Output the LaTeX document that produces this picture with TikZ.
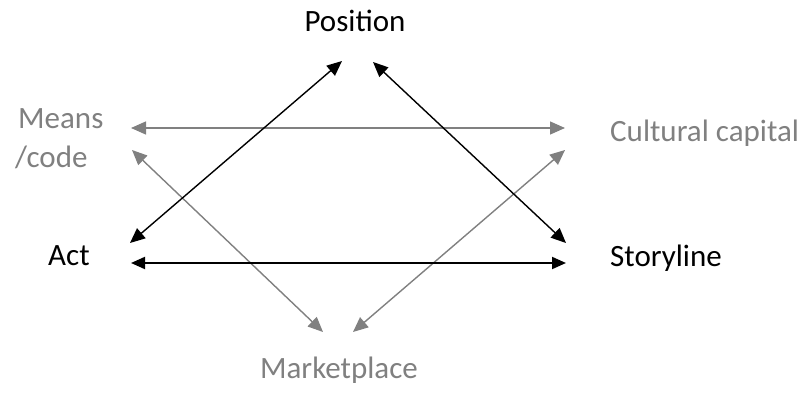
\documentclass[tikz,border=0pt]{standalone}
\usepackage{fontspec}
\setmainfont{Carlito}
\usetikzlibrary{arrows.meta}
\definecolor{txtgray}{RGB}{128,128,128}
\definecolor{lngray}{RGB}{128,128,128}
\tikzset{
  lbl/.style={inner sep=0pt, font=\fontsize{31}{37}\selectfont},
  glbl/.style={lbl, text=txtgray},
  blk/.style={draw=black, line width=1.4pt, {Triangle[length=15pt,width=13pt]}-{Triangle[length=15pt,width=13pt]}},
  blkthick/.style={draw=black, line width=2pt, {Triangle[length=14pt,width=12pt]}-{Triangle[length=14pt,width=12pt]}},
  gry/.style={draw=lngray, line width=1.4pt, {Triangle[length=15pt,width=13pt]}-{Triangle[length=15pt,width=13pt]}},
}
\begin{document}
\begin{tikzpicture}[x=1pt,y=-1pt]
\useasboundingbox (0,0) rectangle (806,396);
% labels
\node[lbl, anchor=base] (pos) at (355,32) {Position};
\node[glbl, anchor=base west] (means) at (18,128) {Means};
\node[glbl, anchor=base west] (code) at (15,167) {/code};
\node[glbl, anchor=base west] (cult) at (610,141) {Cultural capital};
\node[lbl, anchor=base west] (act) at (48,265) {Act};
\node[lbl, anchor=base west] (story) at (610,266) {Storyline};
\node[glbl, anchor=base east] (market) at (418,378) {Marketplace};
% arrow end points
\coordinate (posL) at (342,61);
\coordinate (posR) at (373,62);
\coordinate (actT) at (130,243);
\coordinate (actH) at (131,263);
\coordinate (stoT) at (566,243);
\coordinate (stoH) at (566,263);
\coordinate (meaH) at (131,128);
\coordinate (meaD) at (132,150);
\coordinate (culH) at (565,128);
\coordinate (culD) at (565,150);
\coordinate (mktL) at (323,332);
\coordinate (mktR) at (353,332);
% connectors
\draw[gry] (meaH) -- (culH);
\draw[gry] (meaD) -- (mktL);
\draw[gry] (culD) -- (mktR);
\draw[blk] (actT) -- (posL);
\draw[blk] (posR) -- (stoT);
\draw[blkthick] (actH) -- (stoH);
\end{tikzpicture}
\end{document}
